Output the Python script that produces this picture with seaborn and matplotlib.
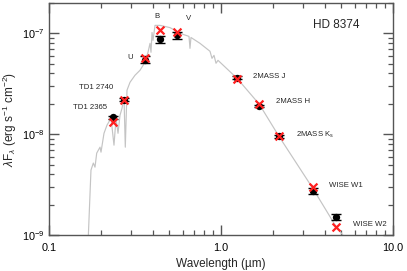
import numpy as np
import pandas as pd
import matplotlib
matplotlib.use("Agg")
import matplotlib.pyplot as plt
from matplotlib.ticker import LogLocator, FixedLocator, FixedFormatter, NullFormatter
import seaborn as sns

# ---- data ----
band_names = ["TD1 2365", "TD1 2740", "U", "B", "V", "2MASS J", "2MASS H",
              "2MASS Ks", "WISE W1", "WISE W2"]
band_wave = [0.2365, 0.274, 0.361, 0.44, 0.553, 1.24, 1.67, 2.17, 3.41, 4.64]
obs_flux = [1.47e-8, 2.2e-8, 5.48e-8, 8.7e-8, 9.55e-8, 3.64e-8, 1.89e-8,
            9.49e-9, 2.73e-9, 1.52e-9]
obs_err = [0.05e-8, 0.08e-8, 0.45e-8, 0.75e-8, 0.85e-8, 0.1e-8, 0.05e-8,
           0.03e-8, 0.19e-9, 0.1e-9]
model_flux = [1.31e-8, 2.2e-8, 5.7e-8, 1.07e-7, 1.03e-7, 3.5e-8, 2.0e-8,
              9.49e-9, 3.0e-9, 1.21e-9]

spec_wave = [0.1685, 0.1754, 0.1810, 0.1851, 0.1894, 0.1980, 0.2006, 0.2088,
             0.2174, 0.2294, 0.2387, 0.2453, 0.2519, 0.2587, 0.2658, 0.2729,
             0.2777, 0.2841, 0.2958, 0.3162, 0.3381, 0.3615, 0.3763, 0.3866,
             0.3917, 0.3972, 0.4025, 0.4134, 0.4419, 0.4725, 0.5052, 0.5403,
             0.5776, 0.6516, 0.6602, 0.669, 0.7548, 0.8630, 0.8866, 0.9106,
             0.9354, 0.9607, 1.24, 1.67, 2.17, 3.41, 4.64, 5.5]
spec_flux = [8e-10, 4.40e-9, 5.17e-9, 4.71e-9, 6.49e-9, 7.43e-9, 6.63e-9,
             1.02e-8, 1.23e-8, 1.44e-8, 7.78e-9, 1.44e-8, 1.02e-8, 1.54e-8,
             1.81e-8, 2.32e-8, 7.43e-9, 2.73e-8, 3.27e-8, 3.84e-8, 4.30e-8,
             5.16e-8, 6.49e-8, 7.96e-8, 6.49e-8, 1.02e-7, 8.53e-8, 1.2e-7,
             1.2e-7, 1.17e-7, 1.14e-7, 1.07e-7, 1.0e-7, 9.33e-8, 7.1e-8,
             9.1e-8, 7.96e-8, 6.64e-8, 5.65e-8, 6.05e-8, 5.05e-8, 5.4e-8,
             3.58e-8, 1.98e-8, 9.55e-9, 2.92e-9, 1.23e-9, 8.5e-10]

x_ticks = [0.1, 1.0, 10.0]
x_tick_labels = ["0.1", "1.0", "10.0"]

# ---- style ----
sns.set_style("ticks")
plt.rcParams["font.family"] = ["Liberation Sans", "DejaVu Sans"]
plt.rcParams["mathtext.fontset"] = "custom"
plt.rcParams["mathtext.rm"] = "Liberation Sans"
plt.rcParams["mathtext.it"] = "Liberation Sans:italic"
plt.rcParams["mathtext.bf"] = "Liberation Sans:bold"

spine_c = "#555555"

fig = plt.figure(figsize=(4.07, 2.71), dpi=100)
ax = fig.add_axes([49 / 407, 36 / 271, 344 / 407, 232 / 271])

spec = pd.DataFrame({"wave": spec_wave, "flux": spec_flux})
sns.lineplot(data=spec, x="wave", y="flux", ax=ax, sort=False,
             color="#c4c4c4", lw=0.85, zorder=1)

ax.errorbar(band_wave, obs_flux, yerr=obs_err, fmt="none", ecolor="black",
            elinewidth=1.0, capsize=3.5, capthick=1.0, zorder=3)
obs = pd.DataFrame({"wave": band_wave, "flux": obs_flux, "model": model_flux})
sns.scatterplot(data=obs, x="wave", y="flux", ax=ax, color="black", s=28,
                marker="o", edgecolor="black", linewidth=0, zorder=4)
sns.scatterplot(data=obs, x="wave", y="model", ax=ax, color="#ff2020", s=32,
                marker="x", linewidth=1.6, zorder=5)

ax.set_xscale("log")
ax.set_yscale("log")
ax.set_xlim(0.1, 10.0)
ax.set_ylim(1e-9, 2e-7)

ax.xaxis.set_major_locator(FixedLocator(x_ticks))
ax.xaxis.set_major_formatter(FixedFormatter(x_tick_labels))
ax.xaxis.set_minor_locator(LogLocator(base=10, subs=np.arange(2, 10)))
ax.xaxis.set_minor_formatter(NullFormatter())
ax.yaxis.set_major_locator(LogLocator(base=10))
ax.yaxis.set_minor_locator(LogLocator(base=10, subs=np.arange(2, 10)))
ax.yaxis.set_minor_formatter(NullFormatter())

ax.tick_params(which="both", direction="in", top=True, right=True,
               colors=spine_c, labelcolor="black", labelsize=7.8)
ax.tick_params(which="major", length=7.5, width=1.0, pad=3)
ax.tick_params(which="minor", length=3.5, width=0.9)
ax.tick_params(axis="x", which="major", pad=6)
for s in ax.spines.values():
    s.set_color(spine_c)
    s.set_linewidth(1.0)

ax.set_xlabel("Wavelength (\u00b5m)", fontsize=8.5, labelpad=3)
ax.set_ylabel(r"$\lambda$F$_\lambda$ (erg s$^{-1}$ cm$^{-2}$)", fontsize=8.5,
              labelpad=2)

fs = 5.6
ax.text(0.1379, 1.85e-8, "TD1 2365", fontsize=fs, va="center", ha="left")
ax.text(0.1494, 2.92e-8, "TD1 2740", fontsize=fs, va="center", ha="left")
ax.text(0.2959, 5.78e-8, "U", fontsize=fs, va="center", ha="center")
ax.text(0.4264, 1.47e-7, "B", fontsize=fs, va="center", ha="center")
ax.text(0.6456, 1.41e-7, "V", fontsize=fs, va="center", ha="center")
ax.text(1.541, 3.75e-8, "2MASS J", fontsize=fs, va="center", ha="left")
ax.text(2.089, 2.09e-8, "2MASS H", fontsize=fs, va="center", ha="left")
ax.text(2.73, 9.77e-9, r"2MASS K$_\mathregular{s}$", fontsize=fs, va="center", ha="left")
ax.text(4.24, 3.13e-9, "WISE W1", fontsize=fs, va="center", ha="left")
ax.text(5.83, 1.28e-9, "WISE W2", fontsize=fs, va="center", ha="left")
ax.text(3.44, 1.2e-7, "HD 8374", fontsize=8.5, va="center", ha="left")

fig.savefig("out.png", dpi=100)
